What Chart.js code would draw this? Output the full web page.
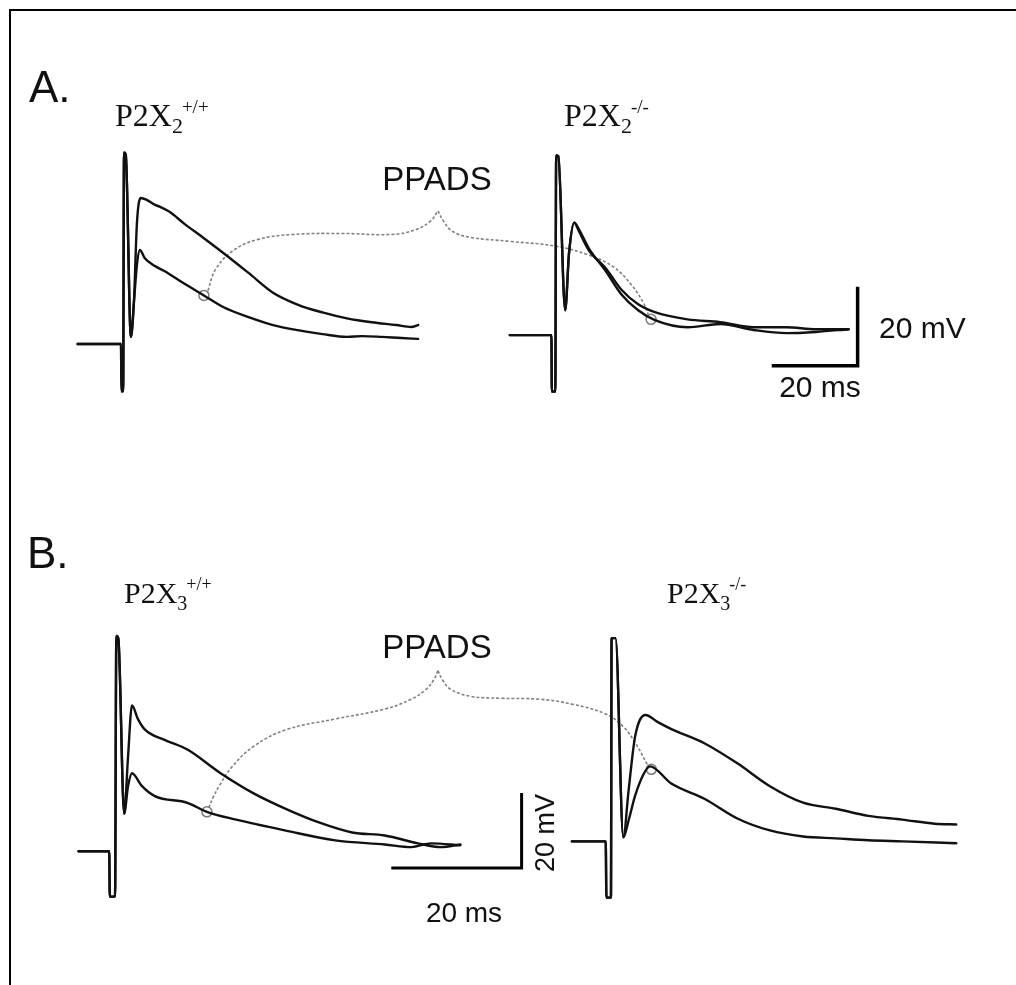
<!DOCTYPE html>
<html>
<head>
<meta charset="utf-8">
<script src="https://cdn.jsdelivr.net/npm/chart.js@4"></script>
<style>
    html, body { margin: 0; padding: 0; background: #fff; }
    #wrap { width: 1016px; height: 985px; }
</style>
</head>
<body>
<div id="wrap"><canvas id="fig" width="1016" height="985"></canvas></div>
<script>
// time in ms after the stimulus, voltage in mV above the resting baseline

// P2X2 +/+
const stimA1T = [-10.1, 0, 0.1, 0.5, 0.7, 1.1, 2.3, 3.0];
const stimA1V = [0, 0, -12, -12, 48.5, 48, 1.8, 10.5];
const ctrlA1T = [3.7, 4.6, 6.0, 7.8, 9.0, 11.3, 14.7, 19.3, 23.9, 29.7, 35.4, 41.1, 46.9, 52.6, 58.4, 64.1, 67.6, 69.2];
const ctrlA1V = [30.5, 37, 36.5, 35.3, 34.8, 33.5, 30.5, 26.8, 23, 18, 13, 10, 8, 6.5, 5.5, 4.8, 4.3, 4.8];
const ppadsA1T = [3.7, 4.4, 5.5, 7.8, 10.1, 14.7, 19.3, 23.9, 29.7, 35.4, 41.1, 46.9, 52.6, 56.1, 60.7, 65.3, 69.2];
const ppadsA1V = [20, 23.8, 21.8, 19.8, 18.5, 15.3, 12.3, 9.3, 6.8, 4.8, 3.5, 2.5, 1.8, 2, 1.8, 1.5, 1.3];

// P2X2 -/-
const stimA2T = [-9.7, 0, 0.1, 0.9, 1.1, 1.6, 3.2, 4.1, 5.3];
const stimA2V = [0, 0, -14.3, -14.3, 45.5, 45.3, 6.3, 20.8, 28.5];
const ctrlA2T = [6.4, 8.7, 12.6, 16.3, 20.2, 24.1, 31.7, 39.3, 47.1, 54.7, 61.6, 69.2];
const ctrlA2V = [26.3, 21.5, 17, 11.5, 7.8, 5.8, 4, 3.3, 2, 2, 1.5, 1.5];
const ppadsA2T = [6.4, 8.7, 12.6, 16.3, 20.2, 24.1, 31.7, 39.3, 47.1, 54.7, 61.6, 69.2];
const ppadsA2V = [26.8, 22, 16.3, 10.3, 6.3, 3.8, 2, 2.8, 1.3, 0.5, 0.8, 1.5];

// P2X3 +/+
const stimB1T = [-4.7, 0, 0.1, 0.9, 1.1, 1.4, 2.3];
const stimB1V = [0, 0, -12.1, -12.1, 57.4, 56.8, 10];
const ctrlB1T = [2.9, 3.5, 4.4, 5.5, 8.5, 12, 17.1, 22.1, 27.1, 32.3, 37.3, 42.3, 47.4, 50.9, 53.9];
const ctrlB1V = [25.3, 38.9, 35.3, 32.4, 29.7, 27.1, 20.8, 15.5, 11.3, 7.6, 5, 4.2, 2.1, 1.1, 1.8];
const ppadsB1T = [2.9, 3.5, 5, 7, 12, 15, 19.5, 27.1, 34.7, 42.3, 46.4, 49.4, 53.9];
const ppadsB1V = [17.4, 20.8, 17.4, 14.7, 12.9, 10.5, 8.4, 5.5, 2.9, 1.8, 1.1, 2.1, 1.6];

// P2X3 -/-
const stimB2T = [-5.2, 0, 0.1, 0.8, 0.9, 1.5, 2.7];
const stimB2V = [0, 0, -15, -15, 54.2, 54.2, 1.1];
const ctrlB2T = [3.5, 4.5, 6.1, 8, 10, 15.2, 20.2, 25.2, 30.3, 35.3, 40.3, 45.5, 50.5, 53.8];
const ctrlB2V = [13.4, 27.9, 33.7, 31.8, 30, 26.1, 20.8, 14.7, 10.3, 8.7, 6.8, 5.8, 4.7, 4.5];
const ppadsB2T = [3.5, 4.5, 5.8, 6.8, 10, 15.2, 20.2, 25.2, 30.3, 35.3, 40.3, 45.5, 53.8];
const ppadsB2V = [5.5, 12.1, 17.9, 20, 15.5, 11.3, 6.1, 2.9, 1.3, 0.8, 0.3, 0, -0.5];

// PPADS markers on the drug traces (ms, mV)
const markT = { A1: 19.3, A2: 23.2, B1: 15, B2: 7 };
const markV = { A1: 12.3, A2: 4, B1: 10.5, B2: 19.2 };

// scale bars
const barMs = 20;
const barMv = 20;

// ---- layout ----
const W = 1016, H = 985;
// stimulus x, baseline y (px), px per ms, px per mV for each trace
const place = {
    A1: { x0: 116, y0: 342, msPx: 4.35, mvPx: 4 },
    A2: { x0: 552, y0: 333, msPx: 4.35, mvPx: 4 },
    B1: { x0: 104, y0: 856, msPx: 6.6, mvPx: 3.8 },
    B2: { x0: 607, y0: 846, msPx: 6.6, mvPx: 3.8 }
};
// scale bar corner (ms, mV) in the trace it sits with
const barA = { key: 'A2', t: 51.3, v: -7.75 };
const barB = { key: 'B1', t: 43.3, v: -4.5 };

// dotted connectors to the PPADS label, figure px
const braceA = [
    [[204, 288], [212, 266], [230, 247], [255, 236], [290, 231], [340, 230], [390, 231], [415, 226], [430, 217], [437, 207]],
    [[437, 207], [443, 218], [452, 228], [470, 234], [510, 238], [557, 243], [590, 252], [615, 264], [633, 282], [645, 300], [650, 312]]
];
const braceB = [
    [[205, 812], [209, 802], [216, 789], [228, 771], [250, 750], [283, 733], [333, 722], [383, 712], [410, 702], [425, 692], [433, 682], [437, 673]],
    [[437, 673], [442, 683], [450, 692], [470, 699], [500, 701], [540, 702], [573, 707], [607, 717], [625, 730], [638, 748], [649, 768]]
];

const pts = (t, v) => t.map((x, i) => ({ x: x, y: v[i] }));

const buildScales = function () {
    let scales = {
        fx: { type: 'linear', display: false, min: 0, max: W },
        fy: { type: 'linear', display: false, min: 0, max: H, reverse: true }
    };
    Object.keys(place).forEach(k => {
        let p = place[k];
        scales['x' + k] = { type: 'linear', display: false, min: -p.x0 / p.msPx, max: (W - p.x0) / p.msPx };
        scales['y' + k] = { type: 'linear', display: false, min: (p.y0 - H) / p.mvPx, max: p.y0 / p.mvPx };
    });
    return scales;
}

const trace = function (key, t, v) {
    return {
        data: pts(t, v),
        xAxisID: 'x' + key,
        yAxisID: 'y' + key,
        borderColor: '#111',
        borderWidth: 2.4,
        borderJoinStyle: 'round',
        borderCapStyle: 'round',
        pointRadius: 0,
        cubicInterpolationMode: 'monotone'
    };
}

const marker = function (key) {
    return {
        data: [{ x: markT[key], y: markV[key] }],
        xAxisID: 'x' + key,
        yAxisID: 'y' + key,
        showLine: false,
        pointRadius: 5,
        pointBorderWidth: 1.5,
        pointBorderColor: '#7a7a7a',
        pointBackgroundColor: 'rgba(255,255,255,0)'
    };
}

const brace = function (path) {
    return {
        data: path.map(p => ({ x: p[0], y: p[1] })),
        xAxisID: 'fx',
        yAxisID: 'fy',
        borderColor: '#808080',
        borderWidth: 1.6,
        borderDash: [3, 2],
        pointRadius: 0,
        tension: 0.4
    };
}

const scaleBar = function (b, width) {
    return {
        data: [{ x: b.t, y: b.v }, { x: b.t + barMs, y: b.v }, { x: b.t + barMs, y: b.v + barMv }],
        xAxisID: 'x' + b.key,
        yAxisID: 'y' + b.key,
        borderColor: '#000',
        borderWidth: width,
        borderJoinStyle: 'miter',
        pointRadius: 0,
        tension: 0
    };
}

const SANS = '"Liberation Sans", Arial, sans-serif';
const SERIF = '"Liberation Serif", "Times New Roman", serif';

const geneLabel = function (ctx, x, y, size, sub, sup) {
    ctx.textAlign = 'left';
    ctx.font = size + 'px ' + SERIF;
    ctx.fillText('P2X', x, y);
    let w = ctx.measureText('P2X').width;
    ctx.font = Math.round(size * 0.68) + 'px ' + SERIF;
    ctx.fillText(sub, x + w, y + 7);
    let ws = ctx.measureText(sub).width;
    ctx.font = Math.round(size * 0.6) + 'px ' + SERIF;
    ctx.fillText(sup, x + w + ws - 1, y - 13);
}

const figText = {
    id: 'figText',
    afterDraw(chart) {
        const ctx = chart.ctx;
        ctx.save();
        // frame
        ctx.strokeStyle = '#000';
        ctx.lineWidth = 2;
        ctx.beginPath();
        ctx.moveTo(10, H);
        ctx.lineTo(10, 10);
        ctx.lineTo(W, 10);
        ctx.stroke();

        ctx.fillStyle = '#111';
        ctx.textBaseline = 'alphabetic';
        ctx.textAlign = 'left';
        ctx.font = '44px ' + SANS;
        ctx.fillText('A.', 29, 102);
        ctx.fillText('B.', 27, 568);

        ctx.textAlign = 'center';
        ctx.font = '33px ' + SANS;
        ctx.fillText('PPADS', 437, 190);
        ctx.fillText('PPADS', 437, 658);

        geneLabel(ctx, 115, 126, 32, '2', '+/+');
        geneLabel(ctx, 564, 126, 32, '2', '-/-');
        geneLabel(ctx, 124, 603, 30, '3', '+/+');
        geneLabel(ctx, 667, 603, 30, '3', '-/-');

        ctx.textAlign = 'left';
        ctx.font = '30px ' + SANS;
        ctx.fillText('20 mV', 879, 338);
        ctx.textAlign = 'center';
        ctx.fillText('20 ms', 820, 397);
        ctx.font = '28px ' + SANS;
        ctx.fillText('20 ms', 464, 922);

        ctx.translate(554, 833);
        ctx.rotate(-Math.PI / 2);
        ctx.font = '27px ' + SANS;
        ctx.fillText('20 mV', 0, 0);
        ctx.restore();
    }
};

const drawFigure = function () {
    let datasets = [
        trace('A1', stimA1T.concat(ctrlA1T), stimA1V.concat(ctrlA1V)),
        trace('A1', stimA1T.concat(ppadsA1T), stimA1V.concat(ppadsA1V)),
        trace('A2', stimA2T.concat(ctrlA2T), stimA2V.concat(ctrlA2V)),
        trace('A2', stimA2T.concat(ppadsA2T), stimA2V.concat(ppadsA2V)),
        trace('B1', stimB1T.concat(ctrlB1T), stimB1V.concat(ctrlB1V)),
        trace('B1', stimB1T.concat(ppadsB1T), stimB1V.concat(ppadsB1V)),
        trace('B2', stimB2T.concat(ctrlB2T), stimB2V.concat(ctrlB2V)),
        trace('B2', stimB2T.concat(ppadsB2T), stimB2V.concat(ppadsB2V)),
        scaleBar(barA, 3.5),
        scaleBar(barB, 3),
        marker('A1'), marker('A2'), marker('B1'), marker('B2')
    ];
    braceA.concat(braceB).forEach(p => datasets.push(brace(p)));

    new Chart(document.getElementById('fig'), {
        type: 'line',
        data: { datasets: datasets },
        options: {
            responsive: false,
            animation: false,
            events: [],
            layout: { padding: 0 },
            parsing: false,
            normalized: true,
            scales: buildScales(),
            plugins: {
                legend: { display: false },
                tooltip: { enabled: false }
            }
        },
        plugins: [figText]
    });
}

drawFigure();
</script>
</body>
</html>
